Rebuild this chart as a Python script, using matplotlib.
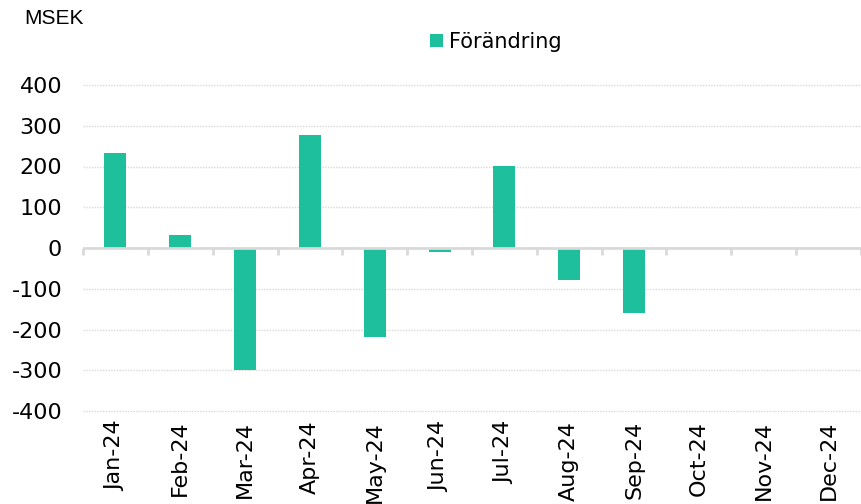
import numpy as np
import matplotlib
matplotlib.use("Agg")
import matplotlib.pyplot as plt

plt.rcParams["axes.unicode_minus"] = False

# Monthly change, MSEK (Oct-Dec have no values yet)
months = ["Jan-24", "Feb-24", "Mar-24", "Apr-24", "May-24", "Jun-24",
          "Jul-24", "Aug-24", "Sep-24", "Oct-24", "Nov-24", "Dec-24"]
change = [234, 32, -299, 277, -218, -9, 201, -78, -159, 0, 0, 0]
y_ticks = [-400, -300, -200, -100, 0, 100, 200, 300, 400]

BAR_COLOR = "#1dbf9c"
GRID_COLOR = "#d9d9d9"

fig = plt.figure(figsize=(8.61, 5.04), dpi=100)
ax = fig.add_axes([83 / 861, 1 - 411 / 504, 778 / 861, (411 - 85) / 504])

x = np.arange(len(months))
ax.bar(x, change, width=0.34, color=BAR_COLOR, label="Förändring", zorder=3)

ax.set_xlim(-0.5, len(months) - 0.5)
ax.set_ylim(-400, 400)

# dotted gridlines, solid zero line
for v in y_ticks:
    if v == 0:
        continue
    ax.axhline(v, color=GRID_COLOR, linestyle=(0, (1, 1)), linewidth=1,
               zorder=1, clip_on=False)
ax.axhline(0, color=GRID_COLOR, linewidth=2, zorder=4)

# category boundary ticks hanging below the zero line
bounds = np.arange(len(months) + 1) - 0.5
ax.vlines(bounds, -17, 0, color=GRID_COLOR, linewidth=2, zorder=4, clip_on=False)

ax.set_yticks(y_ticks)
ax.set_yticklabels([str(v) for v in y_ticks], fontsize=16)
ax.set_xticks(x)
ax.set_xticklabels(months, rotation=90, fontsize=16)
ax.tick_params(axis="y", length=0, pad=15)
ax.tick_params(axis="x", length=0, pad=7)

for s in ax.spines.values():
    s.set_visible(False)

fig.text(24 / 861, 1 - 18 / 504, "MSEK", fontsize=15, family="Liberation Sans",
         va="center", ha="left")

fig.legend(loc="center", bbox_to_anchor=(496 / 861, 1 - 42 / 504), frameon=False,
           fontsize=15, handlelength=0.6, handleheight=0.6, handletextpad=0.3,
           borderpad=0)

plt.savefig("out.png", dpi=100)
